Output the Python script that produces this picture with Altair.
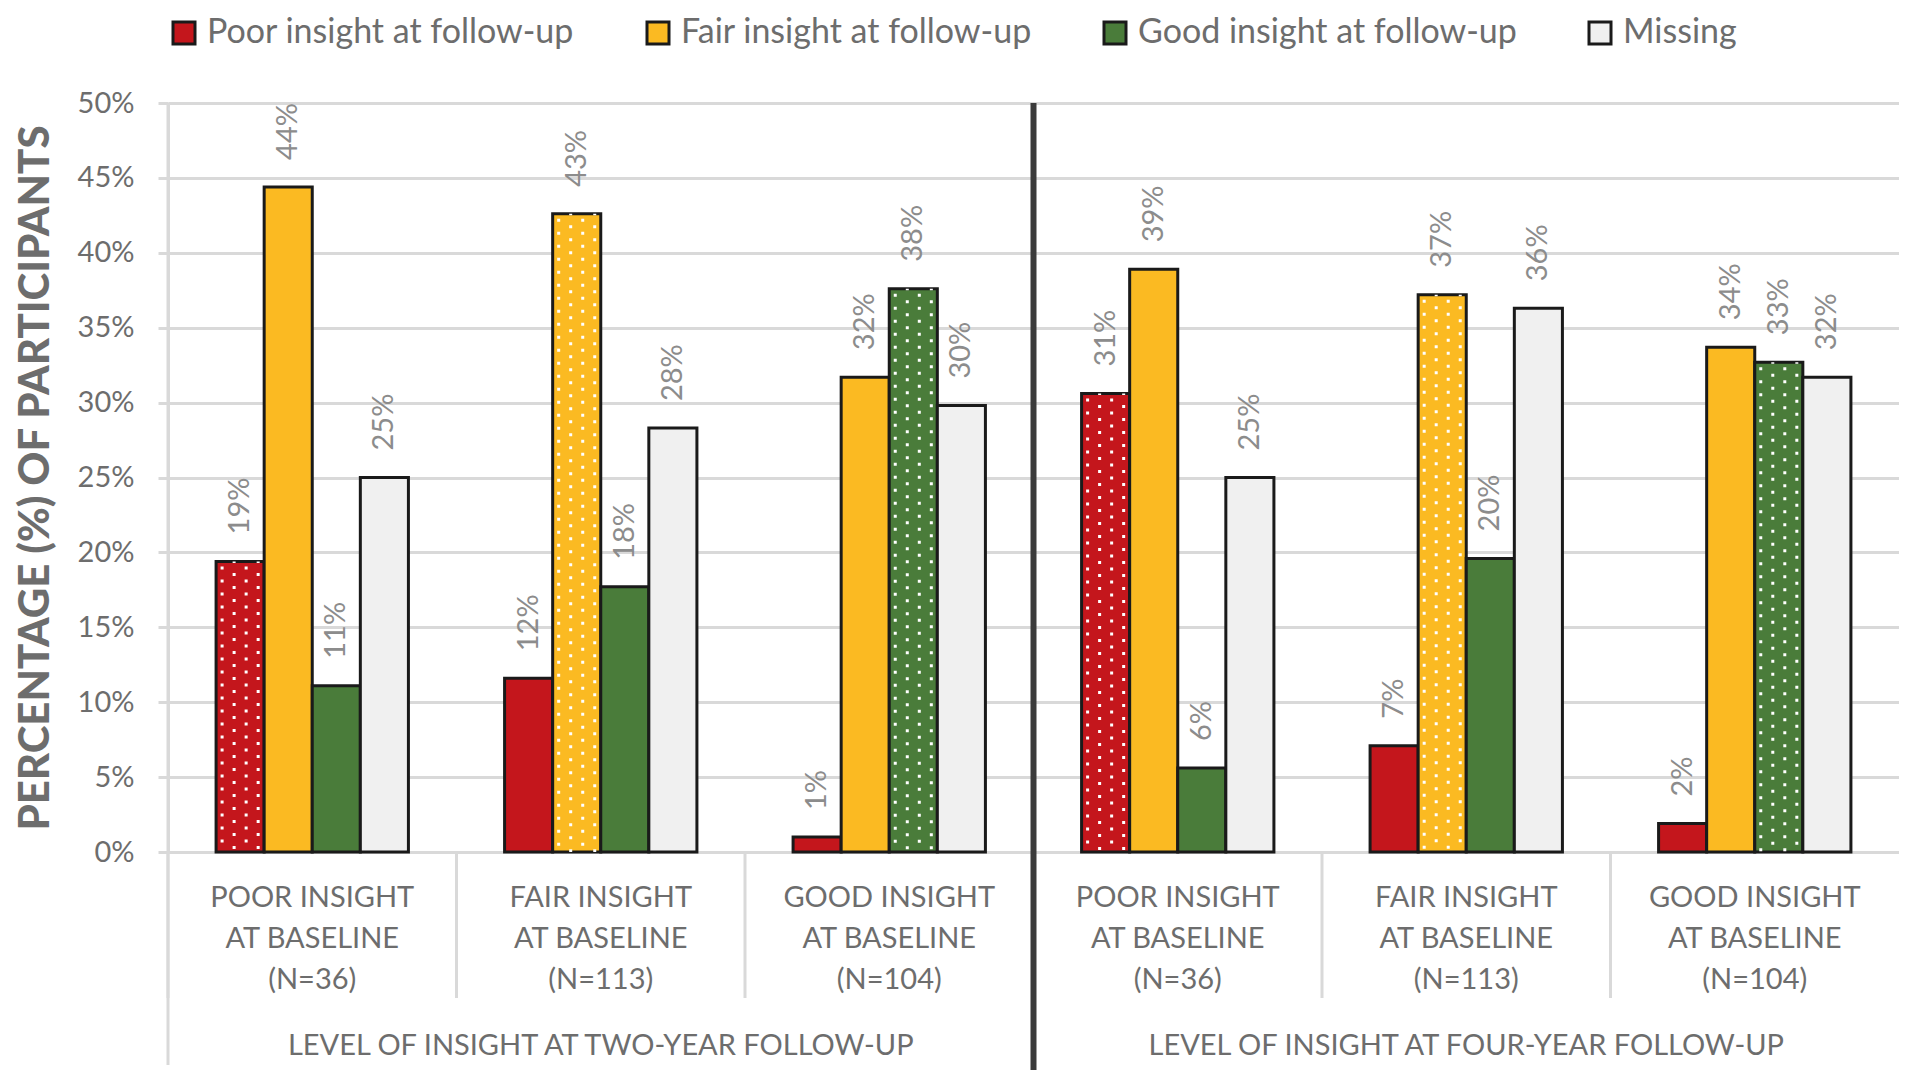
import altair as alt
import pandas as pd

# ---- data ----
groups = ["2y-poor", "2y-fair", "2y-good", "4y-poor", "4y-fair", "4y-good"]
group_lines = [
    ["POOR INSIGHT", "AT BASELINE", "(N=36)"],
    ["FAIR INSIGHT", "AT BASELINE", "(N=113)"],
    ["GOOD INSIGHT", "AT BASELINE", "(N=104)"],
    ["POOR INSIGHT", "AT BASELINE", "(N=36)"],
    ["FAIR INSIGHT", "AT BASELINE", "(N=113)"],
    ["GOOD INSIGHT", "AT BASELINE", "(N=104)"],
]
baseline_level = ["Poor", "Fair", "Good", "Poor", "Fair", "Good"]
series = ["Poor insight at follow-up", "Fair insight at follow-up",
          "Good insight at follow-up", "Missing"]
series_level = ["Poor", "Fair", "Good", "Missing"]
colors = ["#C4161C", "#FBBA22", "#4A7C3A", "#F0F0F0"]

poor_vals = [19.4, 11.6, 1.0, 30.6, 7.1, 1.9]
fair_vals = [44.4, 42.6, 31.7, 38.9, 37.2, 33.7]
good_vals = [11.1, 17.7, 37.6, 5.6, 19.6, 32.7]
missing_vals = [25.0, 28.3, 29.8, 25.0, 36.3, 31.7]

period_groups = ["2y-fair", "4y-fair"]
period_titles = ["LEVEL OF INSIGHT AT TWO-YEAR FOLLOW-UP",
                 "LEVEL OF INSIGHT AT FOUR-YEAR FOLLOW-UP"]
y_ticks = [0, 5, 10, 15, 20, 25, 30, 35, 40, 45, 50]

rows = []
for i, g in enumerate(groups):
    for s, vals in enumerate([poor_vals, fair_vals, good_vals, missing_vals]):
        rows.append({"group": g, "series": series[s], "sidx": s,
                     "base": baseline_level[i], "level": series_level[s],
                     "value": vals[i]})
df = pd.DataFrame(rows)
sep_df = pd.DataFrame({"group": groups})
title_df = pd.DataFrame({"group": period_groups, "title": period_titles})

# ---- styling ----
W, H = 1731, 749
FONT = "Lato"
GRID = "#d9d9d9"
TXT = "#6d6d6d"

label_expr = ""
for g, lines in zip(groups, group_lines):
    arr = "[" + ",".join("'" + l + "'" for l in lines) + "]"
    label_expr += f"datum.value == '{g}' ? {arr} : "
label_expr += "''"

x_scale = alt.Scale(domain=groups, paddingInner=0, paddingOuter=0)
xoff_scale = alt.Scale(domain=series, paddingInner=0, paddingOuter=1)
y_scale = alt.Scale(domain=[0, 50], nice=False)

x_axis = alt.Axis(labelExpr=label_expr, labelFont=FONT, labelFontSize=29,
                  labelColor=TXT, labelLineHeight=41, labelPadding=31,
                  labelBaseline="top", ticks=False, domain=False, grid=False,
                  labelAngle=0, labelOverlap=False, labelLimit=500, title=None)
y_axis = alt.Axis(values=y_ticks, labelExpr="datum.value + '%'", grid=True,
                  gridColor=GRID, gridWidth=3, domainColor=GRID, domainWidth=3,
                  tickColor=GRID, tickWidth=3, tickSize=10, labelPadding=24,
                  labelFont=FONT, labelFontSize=29, labelColor=TXT,
                  title="PERCENTAGE (%) OF PARTICIPANTS", titleFont=FONT,
                  titleFontSize=42, titleFontWeight=900, titleColor=TXT,
                  titlePadding=20)

X = lambda **kw: alt.X("group:N", scale=x_scale, axis=x_axis, **kw)
Y = alt.Y("value:Q", scale=y_scale, axis=y_axis)

base = alt.Chart(df)

separators = alt.Chart(sep_df).mark_rule(color=GRID, strokeWidth=3).encode(
    x=X(bandPosition=0), y=alt.value(H), y2=alt.value(H + 146))

left_ext = alt.Chart(sep_df).transform_filter(
    f"datum.group == '{groups[0]}'").mark_rule(color=GRID, strokeWidth=3).encode(
    x=X(bandPosition=0), y=alt.value(0), y2=alt.value(H + 213))

bars = base.mark_bar(stroke="#1a1a1a", strokeWidth=3).encode(
    x=X(),
    xOffset=alt.XOffset("series:N", scale=xoff_scale),
    y=Y,
    fill=alt.Fill("series:N", scale=alt.Scale(domain=series, range=colors),
                  legend=alt.Legend(title=None, orient="none", legendX=-1,
                                    legendY=-87, direction="horizontal",
                                    labelFont=FONT, labelFontSize=34,
                                    labelColor=TXT, labelLimit=700,
                                    symbolType="square",
                                    symbolSize=484, symbolStrokeColor="#1a1a1a",
                                    symbolStrokeWidth=3, symbolOpacity=1,
                                    labelOffset=6, columnPadding=66, padding=0)),
)

dot_layers = []
for s in range(3):
    for c in range(4):
        bp = (1 + s + (c + 0.5) / 4) / 6
        off = 8 if c % 2 == 0 else 1.5
        dot_layers.append(
            base.transform_filter(
                f"datum.sidx == {s} && datum.base == datum.level"
            ).mark_rule(color="white", strokeWidth=3, strokeDash=[3, 10],
                        strokeDashOffset=off, strokeCap="butt").encode(
                x=X(bandPosition=bp), y=Y, y2=alt.datum(0)))

labels = base.transform_calculate(
    lbl="format(datum.value, '.0f') + '%'"
).mark_text(angle=270, align="left", baseline="middle", dx=27, font=FONT,
            fontSize=29, color="#8c8c8c").encode(
    x=X(), xOffset=alt.XOffset("series:N", scale=xoff_scale), y=Y,
    text="lbl:N")

period_text = alt.Chart(title_df).mark_text(
    font=FONT, fontSize=29, color=TXT, align="center", baseline="middle"
).encode(x=X(), y=alt.value(H + 194), text="title:N")

divider = alt.Chart(sep_df).transform_filter(
    f"datum.group == '{groups[3]}'").mark_rule(color="#3b3b3b", strokeWidth=6).encode(
    x=X(bandPosition=0), y=alt.value(0), y2=alt.value(H + 218))

chart = alt.layer(separators, left_ext, bars, *dot_layers, labels,
                  period_text, divider).properties(
    width=W, height=H,
    padding={"left": 6, "right": 0, "top": 8, "bottom": 0},
    background="white",
).configure_view(strokeWidth=0)

chart.save("out.html", embed_options={"renderer": "svg", "actions": False})
